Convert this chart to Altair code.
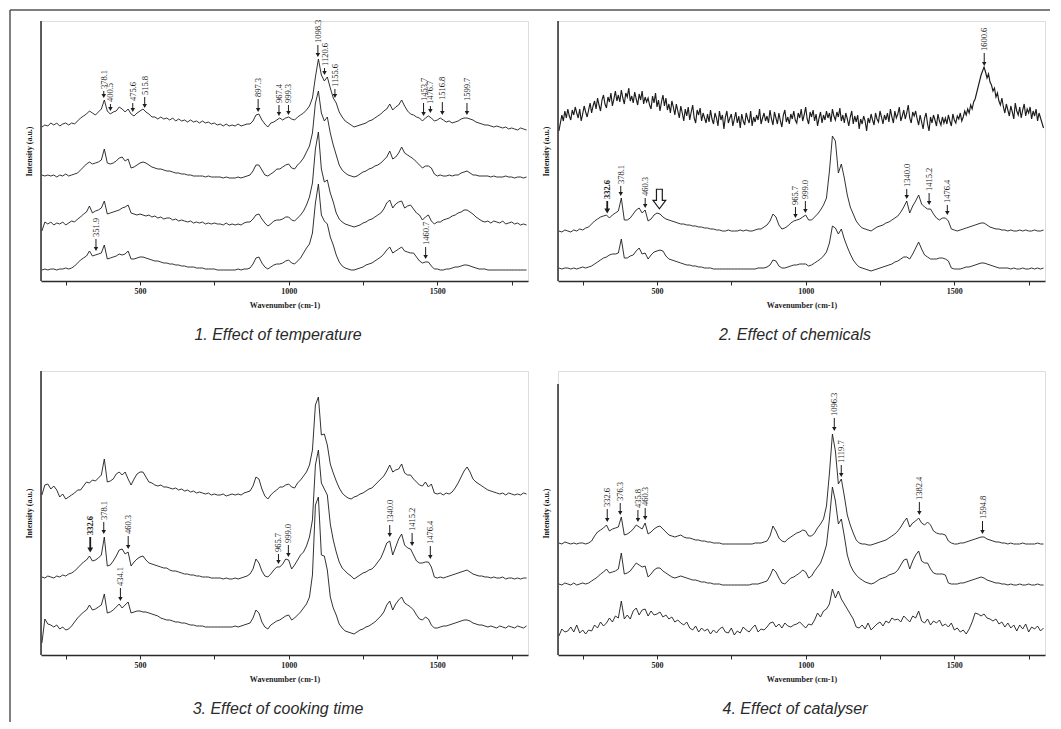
import altair as alt
import pandas as pd

# ---------------- data (wavenumber grids, intensities in arbitrary units) ----------------
WN = list(range(170, 1810, 10))      # grid for the smoother spectra
WN_FINE = list(range(170, 1805, 5))  # finer grid for the very noisy spectrum (panel 2, top)

P1_T1 = [154,156,155,158,156,158,155,157,158,156,
158,157,160,163,165,167,170,168,166,169,
172,181,170,167,169,170,174,172,169,172,
167,165,168,170,172,169,167,164,164,162,
164,162,163,161,163,160,162,160,161,159,
161,159,160,158,160,158,159,157,158,156,
157,155,157,155,156,155,157,155,156,157,
157,160,166,167,161,157,154,158,159,161,
163,161,163,164,162,161,164,166,168,171,
175,183,204,222,206,200,204,193,183,178,
169,164,160,158,156,154,155,156,157,158,
160,161,163,165,167,170,172,177,171,174,
176,181,175,170,167,166,164,163,160,163,
165,163,160,161,163,161,159,160,158,159,
160,162,163,163,162,161,159,158,157,156,
156,155,154,155,154,153,154,152,153,152,
151,153,152,151]
P1_T2 = [106,105,106,105,106,104,106,105,107,105,
106,107,108,111,114,117,119,117,118,119,
121,132,118,117,118,120,123,124,120,122,
113,114,116,118,119,118,116,114,113,112,
112,111,110,110,109,108,108,107,107,106,
106,105,105,105,105,104,105,104,104,104,
104,103,104,103,103,103,104,103,104,105,
106,110,116,116,111,106,105,107,109,112,
112,114,116,117,113,112,116,119,123,129,
135,148,178,190,168,160,164,148,136,126,
116,111,108,106,105,104,105,107,109,110,
112,113,115,116,118,121,124,130,122,124,
128,134,128,126,124,122,119,116,113,115,
115,113,107,105,106,105,105,106,105,106,
106,108,109,110,108,106,106,105,105,105,
105,104,105,104,104,104,105,104,104,103,
104,104,103,104]
P1_T3 = [50,59,57,59,56,58,57,59,56,58,
60,59,62,64,67,69,75,68,70,71,
73,80,67,68,69,70,71,73,74,76,
68,67,66,67,66,65,66,64,65,63,
64,62,63,63,61,62,60,61,60,59,
60,58,59,58,59,57,58,57,58,57,
57,56,58,56,57,56,57,56,58,59,
59,62,66,67,62,58,55,57,60,61,
61,62,64,64,61,60,63,66,70,76,
84,98,132,149,112,99,101,88,79,68,
62,59,57,56,55,54,55,56,58,59,
61,62,64,66,68,72,78,81,73,77,
79,80,73,75,76,72,68,66,61,64,
66,60,57,59,59,61,62,63,65,66,
68,69,71,71,69,67,64,62,60,59,
60,58,60,59,58,60,57,58,59,57,
58,56,57,56]
P1_T4 = [11,12,11,12,12,11,12,12,13,12,
13,15,18,21,23,25,30,25,26,27,
28,36,22,23,24,25,27,26,27,30,
22,22,23,24,24,23,22,21,20,20,
19,18,18,17,17,16,16,15,15,14,
14,14,13,13,13,12,12,12,12,11,
11,11,11,11,11,11,12,11,12,12,
13,17,23,24,18,14,12,14,16,17,
17,18,20,21,18,17,20,23,28,33,
37,48,78,97,66,60,57,44,36,26,
19,15,13,12,11,11,12,13,14,16,
17,18,20,22,24,27,31,34,28,30,
32,34,30,29,28,28,24,20,18,19,
19,15,12,12,11,11,12,12,13,14,
14,15,16,16,15,14,13,12,12,12,
11,11,11,11,11,11,11,11,11,11,
11,11,11,11]

P2_T1 = [150,158,166,160,170,163,172,165,161,171,166,174,168,163,172,160,167,175,169,164,
171,178,168,175,180,172,183,176,170,181,186,177,173,184,179,188,175,182,190,180,
186,179,191,183,177,188,184,193,180,185,178,189,182,176,187,181,190,177,184,179,
183,176,172,185,178,188,174,181,170,179,186,175,183,171,177,168,180,174,166,177,
170,163,175,168,160,172,165,174,161,169,176,163,158,171,166,173,160,168,163,158,
167,159,171,162,157,168,163,155,170,161,166,152,164,170,158,163,167,155,162,169,
158,165,153,167,160,156,168,162,158,170,155,164,159,166,161,172,157,163,168,160,
165,158,171,162,156,169,163,157,168,160,154,166,171,159,164,157,167,162,170,161,
158,168,163,172,160,166,174,162,157,169,164,171,160,167,155,163,169,158,166,161,
170,163,168,159,172,165,161,169,164,173,160,166,158,168,162,155,164,170,157,165,
159,166,152,162,157,165,160,150,163,158,167,161,156,168,162,159,170,164,157,166,
161,168,159,172,164,158,170,163,167,174,160,165,171,162,168,176,163,158,169,165,
170,162,156,166,159,152,163,168,157,150,164,158,166,161,155,167,160,156,164,158,
163,157,166,160,155,167,161,158,165,162,168,160,164,170,166,172,168,176,172,179,
182,188,194,200,206,210,214,209,203,207,199,196,190,193,184,188,180,176,183,174,
168,177,171,165,175,169,162,178,170,166,174,163,171,177,165,172,168,174,162,170,
165,172,160,168,163,158,153]
P2_T2 = [50,49,51,50,49,51,50,52,51,53,
54,57,60,62,64,65,66,63,66,68,
70,83,61,61,63,67,71,73,68,71,
60,62,66,68,67,64,62,61,60,59,
58,57,57,56,56,55,55,54,54,53,
53,52,52,51,51,50,50,51,50,50,
50,51,50,51,50,50,51,52,52,54,
56,60,67,64,56,52,53,55,58,60,
61,62,64,66,61,61,64,67,71,76,
83,110,145,140,108,117,103,86,74,67,
60,56,53,52,51,50,52,54,55,56,
58,59,61,63,65,69,74,80,68,75,
80,86,77,74,72,72,67,63,61,63,
63,60,52,51,50,51,52,53,54,55,
56,57,58,58,56,54,53,52,52,51,
51,50,51,50,50,51,50,51,50,50,
51,50,50,51]
P2_T3 = [13,12,13,13,12,13,12,13,14,13,
14,15,17,19,21,23,24,26,27,27,
28,42,23,23,25,26,30,33,27,28,
22,26,29,30,31,30,25,22,21,20,
19,18,17,16,16,15,15,14,14,13,
13,13,12,12,12,12,12,12,12,12,
12,12,12,12,12,12,12,13,13,13,
14,16,21,20,15,13,13,14,15,16,
16,17,17,17,15,16,18,20,22,25,
29,38,55,53,47,52,42,34,27,21,
17,14,13,12,11,10,11,12,13,14,
15,16,17,19,20,22,24,24,22,27,
33,39,32,26,24,22,22,22,23,23,
22,20,13,12,12,12,13,14,14,15,
16,17,18,18,17,16,15,14,13,13,
13,13,12,13,12,12,13,12,12,13,
12,13,12,13]

P3_T1 = [160,170,171,166,169,165,158,161,156,158,
160,162,165,165,169,173,172,175,174,177,
180,196,173,174,176,181,183,180,183,176,
170,176,181,183,183,178,173,172,170,169,
170,168,168,167,166,167,165,166,164,165,
163,164,162,163,162,161,162,160,161,160,
160,161,159,160,161,160,161,160,162,163,
164,169,178,176,166,159,156,160,163,165,
168,168,170,171,168,167,172,175,179,183,
190,205,250,258,220,221,210,191,182,174,
167,162,159,157,156,158,159,161,162,164,
166,167,170,173,176,179,184,190,183,185,
186,191,182,180,180,176,173,170,169,173,
168,171,162,161,162,160,162,161,163,167,
172,178,184,188,183,176,173,171,169,167,
165,164,163,162,161,162,160,162,161,160,
161,160,162,161]
P3_T2 = [78,77,79,78,77,79,78,80,79,81,
82,84,87,90,93,95,99,94,95,97,
100,118,89,90,94,99,105,106,101,103,
89,93,96,98,99,95,92,91,90,89,
88,87,87,85,84,84,83,82,81,81,
80,80,79,79,78,78,78,77,77,77,
77,76,77,76,76,77,76,77,78,79,
81,86,96,92,84,79,78,81,85,88,
88,91,96,95,86,90,95,100,103,109,
118,135,190,205,172,166,160,131,115,103,
93,87,84,81,79,76,78,80,82,83,
85,86,89,93,97,104,112,114,100,108,
116,121,110,107,106,100,94,92,92,93,
93,88,78,77,78,77,78,79,80,81,
82,83,84,85,83,81,80,79,79,78,
78,77,78,77,77,78,76,77,77,76,
77,76,77,77]
P3_T3 = [12,36,31,30,28,30,26,28,25,26,
29,33,37,40,43,45,50,45,46,48,
50,61,42,43,45,48,51,47,50,53,
42,43,44,44,43,43,42,41,40,39,
37,36,35,35,34,33,33,32,32,31,
30,30,29,29,29,28,28,28,28,28,
28,28,28,28,28,29,28,29,30,31,
32,37,45,42,33,28,26,30,32,34,
35,37,39,40,35,37,40,43,47,51,
58,80,150,158,100,99,85,58,47,40,
31,27,24,23,22,21,23,25,26,28,
29,31,33,36,39,43,50,54,45,51,
55,58,52,50,48,45,40,36,35,38,
36,30,27,27,28,29,29,30,31,32,
33,34,35,35,34,32,31,30,30,29,
28,29,28,27,29,28,27,29,28,27,
29,28,27,29]

P4_T1 = [106,105,107,106,105,106,105,106,106,105,
106,108,113,117,119,121,124,118,120,121,
122,132,114,115,117,120,124,122,120,126,
115,117,120,122,123,120,117,114,113,112,
113,114,112,111,111,110,109,109,108,108,
107,107,106,106,106,105,105,105,105,105,
105,105,105,105,105,105,106,106,106,107,
108,113,123,118,111,108,107,110,112,114,
116,117,119,118,113,113,116,121,125,130,
143,176,215,198,165,170,153,134,124,116,
109,106,105,105,104,104,105,106,107,108,
109,111,113,115,118,122,127,131,122,126,
128,131,126,124,127,124,118,116,115,115,
114,108,106,105,105,106,106,107,108,109,
110,111,112,112,110,109,108,107,107,106,
106,105,106,105,105,105,106,105,105,105,
105,106,105,105]
P4_T2 = [65,64,66,65,64,66,64,65,66,65,
66,68,70,72,75,77,80,76,77,78,
80,96,75,76,78,82,86,84,82,83,
72,75,79,81,81,78,76,74,72,71,
72,73,72,71,70,69,69,68,67,67,
66,66,65,65,65,64,64,64,64,64,
64,64,64,64,64,65,65,65,66,67,
68,73,80,77,71,66,65,68,71,72,
74,76,79,77,71,73,78,82,86,94,
104,130,162,148,125,130,113,94,84,78,
74,71,69,67,66,65,66,68,70,71,
72,74,75,76,79,84,89,90,80,88,
94,98,88,86,86,80,76,75,75,75,
74,66,65,65,65,66,66,67,68,69,
70,71,72,71,69,68,67,66,66,65,
65,64,65,64,64,65,64,64,65,64,
64,65,64,64]
P4_T3 = [13,20,17,18,22,17,24,16,19,15,
19,18,24,21,27,23,26,31,27,33,
31,48,30,34,30,38,41,34,39,40,
33,38,34,35,37,32,34,30,32,27,
29,26,24,27,21,19,23,17,21,18,
20,15,19,16,20,22,17,16,21,14,
18,16,22,19,17,21,24,17,20,19,
22,26,27,22,25,21,26,23,22,24,
25,27,24,21,25,24,29,36,32,38,
40,45,60,51,58,50,45,40,35,30,
22,21,24,20,26,19,22,25,27,23,
28,26,31,29,30,27,33,30,27,33,
31,38,28,26,30,24,28,26,29,23,
25,22,26,19,21,17,19,15,20,27,
36,35,33,35,31,30,28,30,25,27,
22,26,21,24,18,24,20,25,17,22,
20,23,18,21]

# peak annotations: wavenumber label, arrow tip (intensity units), arrow length
P1_LAB = ["351.9","378.1","400.5","475.6","515.8","897.3","967.4","999.3","1098.3","1120.6","1155.6","1453.7","1476.7","1516.8","1599.7","1460.7"]
P1_TIP = [30,183,170,169,173,169,165,166,224,206,183,165,168,166,166,22]
P1_LEN = [12,7,7,9,11,13,11,10,12,7,9,13,7,13,12,12]
P1_BOLD = [False]*16

P2_LAB = ["332.6","378.1","460.3","965.7","999.0","1340.0","1415.2","1476.4","1600.6"]
P2_TIP = [68,85,73,63,68,82,76,66,215]
P2_LEN = [12,10,10,11,12,10,12,10,13]
P2_BOLD = [True,False,False,False,False,False,False,False,False]

P3_LAB = ["332.6","378.1","460.3","434.1","965.7","999.0","1340.0","1415.2","1476.4"]
P3_TIP = [103,121,106,54,91,98,118,109,96]
P3_LEN = [15,12,13,13,10,12,12,13,13]
P3_BOLD = [True,False,False,False,False,False,False,False,False]

P4_LAB = ["332.6","376.3","435.8","460.3","1096.3","1119.7","1382.4","1594.8"]
P4_TIP = [127,134,127,129,218,172,134,115]
P4_LEN = [13,12,12,12,13,12,13,13]
P4_BOLD = [False]*8

HOLLOW_WN = [508]
HOLLOW_Y = [82]

TITLES = ["1. Effect of temperature", "2. Effect of chemicals",
          "3. Effect of cooking time", "4. Effect of catalyser"]

# ---------------- style ----------------
SERIF = "Liberation Serif"
SANS = "Liberation Sans"
INK = "#1c1c1c"
AXC = "#2a2a2a"
X_DOMAIN = [167, 1805]
TICKS = [250, 500, 750, 1000, 1250, 1500, 1750]
W = 487


def xq(field, axis):
    return alt.X(field, type="quantitative",
                 scale=alt.Scale(domain=X_DOMAIN, nice=False, zero=False), axis=axis)


def panel(traces, labs, tips, lens, bolds, h, axis_top, title, y0=0,
          hollow=False, frame=False):
    def yq(field, axis):
        return alt.Y(field, type="quantitative",
                     scale=alt.Scale(domain=[y0, y0 + h], nice=False, zero=False), axis=axis)

    rows = []
    for i, (grid, ys, sw) in enumerate(traces):
        assert len(ys) == len(grid), (title, i, len(ys), len(grid))
        rows += [{"wn": w, "val": v, "trace": i, "sw": sw} for w, v in zip(grid, ys)]
    df = pd.DataFrame(rows)
    xaxis = alt.Axis(values=TICKS, format="d",
                     labelExpr="datum.value % 500 === 0 ? datum.label : ''",
                     title="Wavenumber (cm-1)", grid=False,
                     domainColor=AXC, domainWidth=1.5, tickColor=AXC,
                     tickSize=4, tickWidth=1, labelFont=SERIF, labelFontSize=8,
                     labelFontWeight="bold", labelColor=INK, labelPadding=2,
                     titleFont=SERIF, titleFontSize=8, titleFontWeight="bold",
                     titleColor=INK, titlePadding=6)
    yaxis = alt.Axis(labels=False, ticks=False, grid=False, domain=False,
                     title="Intensity (a.u.)",
                     titleFont=SERIF, titleFontSize=8, titleFontWeight="bold",
                     titleColor=INK, titlePadding=8)
    layers = [alt.Chart(df).mark_line(color=INK).encode(
        x=xq("wn", xaxis), y=yq("val", yaxis), detail="trace:N",
        strokeWidth=alt.StrokeWidth("sw:Q", scale=None))]

    one = alt.Chart(pd.DataFrame({"k": [0]}))
    # y axis line (in panel 4 it starts below the top of the cell)
    layers.append(one.mark_rule(color=AXC, strokeWidth=1.5).encode(
        x=alt.value(0), y=alt.value(h - axis_top), y2=alt.value(h)))
    # panel caption under the axis title
    layers.append(one.mark_text(font=SANS, fontSize=16, fontStyle="italic",
                                color="#2a2a2a", align="center", baseline="middle").encode(
        x=alt.value(237), y=alt.value(h + 54), text=alt.value(title)))

    adf = pd.DataFrame({"wn": [float(s) for s in labs], "tip": tips, "len": lens,
                        "label": labs, "bold": bolds})
    adf["top"] = adf["tip"] + adf["len"]
    adf["shaft"] = adf["tip"] + 3
    adf["head"] = adf["tip"] + 2
    adf["lab"] = adf["top"] + 2
    for bold in (False, True):
        sub = adf[adf["bold"] == bold]
        if len(sub) == 0:
            continue
        a = alt.Chart(sub)
        layers.append(a.mark_rule(color=INK, strokeWidth=1.8 if bold else 1).encode(
            x=xq("wn", xaxis), y=yq("top", yaxis), y2="shaft"))
        layers.append(a.mark_point(shape="triangle-down", filled=True, opacity=1,
                                   size=34 if bold else 20, color=INK).encode(
            x=xq("wn", xaxis), y=yq("head", yaxis)))
        layers.append(a.mark_text(angle=270, align="left", baseline="middle", font=SERIF,
                                  fontSize=8.5, fontWeight="bold" if bold else "normal",
                                  color=INK).encode(
            x=xq("wn", xaxis), y=yq("lab", yaxis), text="label:N"))
    if hollow:
        hdf = pd.DataFrame({"wn": HOLLOW_WN, "y": HOLLOW_Y})
        layers.append(alt.Chart(hdf).mark_point(
            shape="M -0.3 -1 L 0.3 -1 L 0.3 0.15 L 0.65 0.15 L 0 1 L -0.65 0.15 L -0.3 0.15 Z",
            size=380, filled=True, fill="white", stroke=INK, strokeWidth=1.2, opacity=1).encode(
            x=xq("wn", xaxis), y=yq("y", yaxis)))
    if frame:
        layers.append(one.mark_rule(color="#555", strokeWidth=1.5).encode(
            x=alt.value(-31), y=alt.value(-11), y2=alt.value(701)))
        layers.append(one.mark_rule(color="#555", strokeWidth=1.5).encode(
            x=alt.value(-31), x2=alt.value(1009), y=alt.value(-11)))
    return alt.layer(*layers).properties(width=W, height=h)


p1 = panel([(WN, P1_T1, 0.9), (WN, P1_T2, 0.9), (WN, P1_T3, 0.9), (WN, P1_T4, 0.9)],
           P1_LAB, P1_TIP, P1_LEN, P1_BOLD, 260, 260, TITLES[0], frame=True)
p2 = panel([(WN_FINE, P2_T1, 1.15), (WN, P2_T2, 0.9), (WN, P2_T3, 0.9)],
           P2_LAB, P2_TIP, P2_LEN, P2_BOLD, 260, 260, TITLES[1], hollow=True)
p3 = panel([(WN, P3_T1, 0.9), (WN, P3_T2, 0.9), (WN, P3_T3, 0.9)],
           P3_LAB, P3_TIP, P3_LEN, P3_BOLD, 284, 284, TITLES[2])
p4 = panel([(WN, P4_T1, 0.9), (WN, P4_T2, 0.9), (WN, P4_T3, 0.9)],
           P4_LAB, P4_TIP, P4_LEN, P4_BOLD, 284, 271, TITLES[3], y0=-6)

chart = alt.concat(p1, p2, p3, p4, columns=2, bounds="flush",
                   spacing=alt.RowColnumber(row=90, column=30), padding=0).configure_view(
    stroke="transparent").configure(background="white")

chart.save("out.html", embed_options={"renderer": "svg", "actions": False})
